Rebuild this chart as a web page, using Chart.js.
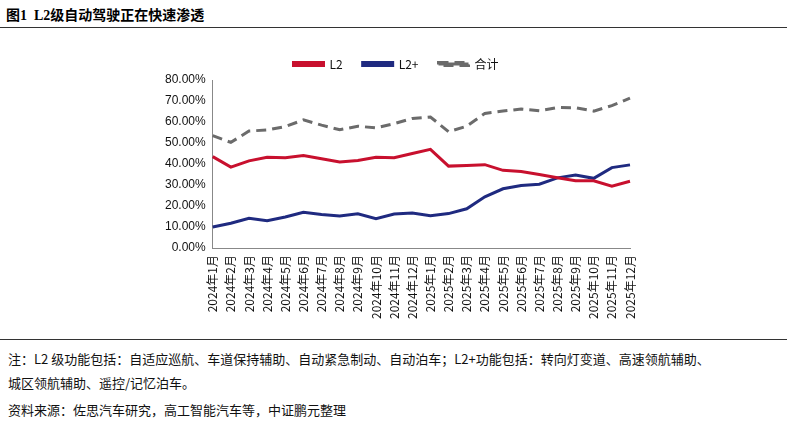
<!DOCTYPE html>
<html lang="zh">
<head>
<meta charset="UTF-8">
<script src="https://cdn.jsdelivr.net/npm/chart.js"></script>
<style>
    body { margin: 0; width: 787px; height: 424px; background: #fff; font-family: "Noto Sans CJK SC", "Liberation Serif", serif; position: relative; overflow: hidden; }
    .title { position: absolute; left: 6px; top: 4px; font-size: 14px; font-weight: bold; font-family: "Liberation Serif", "Noto Sans CJK SC", serif; }
    .hr1 { position: absolute; left: 0; right: 0; top: 27px; border-top: 1.5px solid #333; }
    .hr2 { position: absolute; left: 0; right: 0; top: 339px; border-top: 1px solid #333; }
    #chartContainer { position: absolute; left: 0; top: 38px; width: 787px; height: 300px; }
    .note { position: absolute; left: 8px; font-size: 13px; color: #111; }
</style>
</head>
<body>
<div class="title">图1 &nbsp;L2级自动驾驶正在快速渗透</div>
<div class="hr1"></div>
<div id="chartContainer"><canvas id="c"></canvas></div>
<div class="hr2"></div>
<div class="note" style="top:349px">注：L2 级功能包括：自适应巡航、车道保持辅助、自动紧急制动、自动泊车；L2+功能包括：转向灯变道、高速领航辅助、</div>
<div class="note" style="top:373px">城区领航辅助、遥控/记忆泊车。</div>
<div class="note" style="top:400px">资料来源：佐思汽车研究，高工智能汽车等，中证鹏元整理</div>
<script>
    const labels = [];
    for (const y of [2024, 2025]) for (let m = 1; m <= 12; m++) labels.push(y + '年' + m + '月');
    const data = {
        l2: [43.5, 38.5, 41.5, 43.2, 43, 44, 42.5, 41, 41.7, 43.2, 43, 45, 47, 39, 39.3, 39.7, 37, 36.4, 35, 33.5, 32, 32, 29.5, 31.8],
        l2plus: [10, 11.8, 14.2, 13, 14.8, 17, 16, 15.3, 16.3, 14, 16.2, 16.7, 15.4, 16.4, 18.7, 24.4, 28.2, 29.8, 30.4, 33.4, 34.8, 33.2, 38.3, 39.6],
        total: [53.5, 50.3, 55.7, 56.2, 57.8, 61, 58.5, 56.3, 58, 57.2, 59.2, 61.7, 62.4, 55.4, 58, 64.1, 65.2, 66.2, 65.4, 66.9, 66.8, 65.2, 67.8, 71.4]
    };
    new Chart(document.getElementById('c'), {
        type: 'line',
        data: {
            labels: labels,
            datasets: [
                { label: 'L2', data: data.l2, borderColor: '#c8102e', backgroundColor: '#c8102e', borderWidth: 3, pointRadius: 0, tension: 0 },
                { label: 'L2+', data: data.l2plus, borderColor: '#1f2a80', backgroundColor: '#1f2a80', borderWidth: 3, pointRadius: 0, tension: 0 },
                { label: '合计', data: data.total, borderColor: '#6b6b6b', backgroundColor: '#6b6b6b', borderWidth: 3, borderDash: [10, 6], pointRadius: 0, tension: 0 }
            ]
        },
        options: {
            responsive: true,
            maintainAspectRatio: false,
            animation: false,
            layout: { padding: { left: 162, right: 157, top: 0, bottom: 16 } },
            plugins: {
                legend: {
                    position: 'top',
                    labels: { boxWidth: 30, boxHeight: 3, color: '#111', font: { size: 12, family: 'Noto Sans CJK SC' }, padding: 20 }
                },
                tooltip: { enabled: false }
            },
            scales: {
                x: {
                    offset: false,
                    grid: { display: false, drawTicks: true, tickLength: 4 },
                    border: { color: '#888' },
                    ticks: { color: '#111', font: { size: 12, family: 'Noto Sans CJK SC' }, maxRotation: 90, minRotation: 90, autoSkip: false }
                },
                y: {
                    min: 0, max: 80,
                    grid: { display: false, tickLength: 4 },
                    border: { color: '#888' },
                    ticks: { stepSize: 10, color: '#111', font: { size: 12, family: 'Liberation Sans' }, callback: v => v.toFixed(2) + '%' }
                }
            }
        }
    });
</script>
</body>
</html>
